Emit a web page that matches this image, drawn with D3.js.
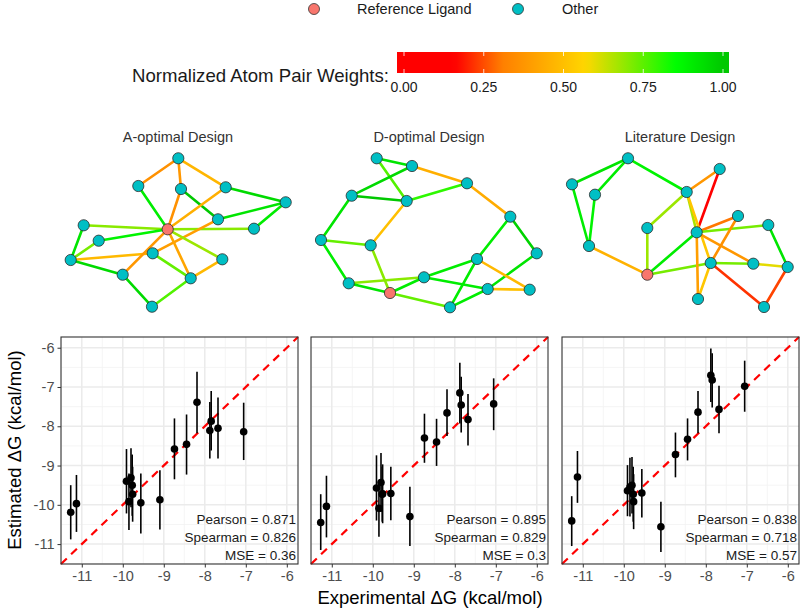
<!DOCTYPE html>
<html><head><meta charset="utf-8">
<script src="https://cdn.jsdelivr.net/npm/d3@7"></script>
<style>body{margin:0;background:#fff;} svg{display:block;font-family:"Liberation Sans",Arial,Helvetica,sans-serif;}</style>
</head><body><svg id="chart" width="800" height="609"></svg>
<script>
// ---------------- DATA ----------------
const designTitles = ["A-optimal Design", "D-optimal Design", "Literature Design"];
const legendLabels = ["Reference Ligand", "Other"];
const legendColors = ["#F8766D", "#00BFC4"];
const colorbarTitle = "Normalized Atom Pair Weights:";
const colorbarTicks = [0, 0.25, 0.5, 0.75, 1];
const weightStops = [0, 0.16, 0.31, 0.57, 0.85, 1];
const weightColors = ["#FF0000", "#FF0000", "#FF8000", "#FFD700", "#00FF00", "#00C800"];

// network layouts (layout units), reference-ligand index, edges [from, to, weight] (1-based)
const nodesA = [[123.3,13.3],[83.3,41],[126,44],[170.7,42.3],[230.7,57.3],[163,74.3],[28.7,80.3],[112.7,84.3],[199,83.7],[43.7,95.7],[15.7,115],[97.7,108.3],[167.3,114.3],[67.7,129.7],[135.7,133.3],[97,161.7]];
const refA = 8;
const edgesA = [[1,2,0.36],[1,3,0.38],[1,4,0.47],[2,8,0.9],[3,8,0.36],[3,6,1.0],[4,8,0.45],[4,5,0.95],[6,5,0.92],[5,9,0.9],[7,8,0.7],[8,9,0.7],[10,8,0.88],[7,11,0.92],[10,11,0.72],[11,12,0.48],[12,6,0.4],[8,13,0.68],[8,15,0.42],[8,14,0.38],[11,14,0.95],[12,15,0.74],[13,15,0.48],[14,16,0.95],[16,15,0.76]];

const nodesB = [[71.7,13.3],[107,21],[162,38.3],[46.7,50.7],[101.7,56],[205.3,71.7],[16,95],[65.7,100.3],[231.7,108.3],[172,114],[119,132.3],[43.7,138.3],[182.7,144],[224.7,144.7],[85,148],[145,162.3]];
const refB = 15;
const edgesB = [[1,2,0.92],[1,5,0.76],[2,4,0.95],[2,3,0.45],[4,5,1.0],[5,3,0.8],[3,6,0.44],[5,8,0.5],[4,7,0.92],[7,8,0.74],[7,12,0.9],[8,15,0.7],[6,10,0.9],[6,9,0.97],[9,13,0.92],[10,11,0.9],[10,14,0.48],[10,16,0.9],[12,11,0.7],[12,15,0.92],[15,11,0.9],[11,13,0.9],[13,14,0.5],[15,16,0.74],[13,16,0.9]];

const nodesC = [[73,13.3],[164.7,24],[17,39.3],[40,49.7],[131.7,47],[183,71],[213.3,80],[92.3,83],[141.7,87.3],[34,101],[155.7,118],[198.3,118.7],[232.7,122],[92.3,129.7],[143,154],[209,162]];
const refC = 14;
const edgesC = [[1,3,0.92],[1,4,0.9],[1,5,0.88],[3,10,0.9],[4,10,0.88],[10,14,0.46],[5,2,0.38],[2,9,0.0],[5,8,0.68],[8,14,0.68],[14,9,0.9],[5,9,0.66],[5,11,0.52],[9,6,0.3],[9,7,0.72],[9,12,0.38],[6,11,0.36],[14,11,0.72],[11,12,0.72],[12,13,0.6],[7,13,0.92],[11,16,0.22],[16,13,0.24],[9,15,0.4],[11,15,0.52]];

// scatter data
const axisTicks = [-11, -10, -9, -8, -7, -6];
const axisLimits = [-11.507, -5.727];
const experimental = [-11.27,-11.13,-9.91,-9.85,-9.80,-9.77,-9.76,-9.56,-9.095,-8.74,-8.445,-8.19,-7.877,-7.844,-7.678,-7.052];
const estA = [-10.19,-9.97,-9.40,-9.92,-9.31,-9.50,-9.73,-9.95,-9.87,-8.58,-8.46,-7.39,-8.11,-7.87,-8.05,-8.14];
const loA  = [-10.88,-10.69,-10.22,-10.64,-10.06,-10.28,-10.43,-10.73,-10.63,-9.35,-9.23,-8.18,-8.82,-8.62,-8.82,-8.86];
const hiA  = [-9.50,-9.24,-8.58,-9.20,-8.56,-8.72,-9.03,-9.20,-9.12,-7.80,-7.70,-6.61,-7.38,-7.10,-7.27,-7.40];
const estB = [-10.45,-10.04,-9.57,-10.09,-9.43,-9.73,-9.72,-9.71,-10.30,-8.30,-8.40,-7.66,-7.15,-7.46,-7.83,-7.43];
const loB  = [-11.15,-10.83,-10.40,-10.81,-10.18,-10.43,-10.47,-10.39,-11.05,-8.93,-9.01,-8.25,-7.93,-8.16,-8.49,-8.10];
const hiB  = [-9.73,-9.26,-8.74,-9.37,-8.68,-9.03,-8.97,-9.03,-9.54,-7.68,-7.81,-7.06,-6.38,-6.74,-7.18,-6.78];
const estC = [-10.41,-9.29,-9.64,-9.55,-9.50,-9.73,-9.92,-9.70,-10.56,-8.72,-8.33,-7.64,-6.70,-6.82,-7.57,-6.98];
const loC  = [-11.05,-9.95,-10.29,-10.30,-10.22,-10.43,-10.62,-10.32,-11.20,-9.30,-8.87,-8.18,-7.38,-7.52,-8.18,-7.63];
const hiC  = [-9.78,-8.63,-8.99,-8.80,-8.78,-9.03,-9.22,-9.09,-9.92,-8.16,-7.80,-7.10,-6.02,-6.14,-6.97,-6.33];
const pearson  = ["0.871", "0.895", "0.838"];
const spearman = ["0.826", "0.829", "0.718"];
const mse      = ["0.36", "0.3", "0.57"];
const xTitle = "Experimental \u0394G (kcal/mol)";
const yTitle = "Estimated \u0394G (kcal/mol)";

// ---------------- DRAW ----------------
const svg = d3.select("#chart");
const color = d3.scaleLinear().domain(weightStops).range(weightColors).clamp(true);

// top legend
const legX = [314, 518], legTextX = [357, 562];
legendLabels.forEach((lab, i) => {
  svg.append("circle").attr("cx", legX[i]).attr("cy", 9).attr("r", 5.5)
    .attr("fill", legendColors[i]).attr("stroke", "#333").attr("stroke-width", 0.8);
  svg.append("text").attr("x", legTextX[i]).attr("y", 14).attr("font-size", 14.5)
    .attr("fill", "#1a1a1a").text(lab);
});

// colorbar
const cbScale = d3.scaleLinear().domain([0, 1]).range([404, 723]);
const defs = svg.append("defs");
const grad = defs.append("linearGradient").attr("id", "cbgrad").attr("x1", "0%").attr("x2", "100%");
const barX0 = 397, barX1 = 729;
d3.range(0, 1.0001, 0.02).forEach(t => {
  const v = cbScale.invert(barX0 + t * (barX1 - barX0));
  grad.append("stop").attr("offset", (t * 100) + "%").attr("stop-color", color(v));
});
svg.append("rect").attr("x", barX0).attr("y", 52).attr("width", barX1 - barX0).attr("height", 21)
  .attr("fill", "url(#cbgrad)");
colorbarTicks.forEach(t => {
  svg.append("line").attr("x1", cbScale(t)).attr("x2", cbScale(t)).attr("y1", 52).attr("y2", 56)
    .attr("stroke", "#fff").attr("stroke-width", 0.8);
  svg.append("line").attr("x1", cbScale(t)).attr("x2", cbScale(t)).attr("y1", 69).attr("y2", 73)
    .attr("stroke", "#fff").attr("stroke-width", 0.8);
  svg.append("text").attr("x", cbScale(t)).attr("y", 92).attr("text-anchor", "middle")
    .attr("font-size", 14).attr("fill", "#1a1a1a").text(t.toFixed(2));
});
svg.append("text").attr("x", 389).attr("y", 82).attr("text-anchor", "end")
  .attr("font-size", 18.6).attr("fill", "#1a1a1a").text(colorbarTitle);

// networks
const netOrigins = [55, 305, 555];
const titleCenters = [178, 429, 680];
const nets = [[nodesA, refA, edgesA], [nodesB, refB, edgesB], [nodesC, refC, edgesC]];
nets.forEach(([nodes, ref, edges], k) => {
  const sx = d3.scaleLinear().domain([0, 240]).range([netOrigins[k], netOrigins[k] + 240]);
  const sy = d3.scaleLinear().domain([0, 170]).range([145, 315]);
  const g = svg.append("g");
  svg.append("text").attr("x", titleCenters[k]).attr("y", 142).attr("text-anchor", "middle")
    .attr("font-size", 14.5).attr("fill", "#333").text(designTitles[k]);
  g.selectAll("line").data(edges).join("line")
    .attr("x1", d => sx(nodes[d[0]-1][0])).attr("y1", d => sy(nodes[d[0]-1][1]))
    .attr("x2", d => sx(nodes[d[1]-1][0])).attr("y2", d => sy(nodes[d[1]-1][1]))
    .attr("stroke", d => color(d[2])).attr("stroke-width", 2.6).attr("stroke-linecap", "round");
  g.selectAll("circle").data(nodes).join("circle")
    .attr("cx", d => sx(d[0])).attr("cy", d => sy(d[1])).attr("r", 5.6)
    .attr("fill", (d, i) => i === ref - 1 ? legendColors[0] : legendColors[1])
    .attr("stroke", "#2b2b2b").attr("stroke-width", 0.8);
});

// scatter panels
const panelX = [[61, 298], [311, 548], [562, 799]];
const panelY = [337, 564];
const ests = [estA, estB, estC], los = [loA, loB, loC], his = [hiA, hiB, hiC];
const minorTicks = d3.range(-11.5, -5.5, 0.5).filter(v => !Number.isInteger(v));
panelX.forEach((px, k) => {
  const x = d3.scaleLinear().domain(axisLimits).range(px);
  const y = d3.scaleLinear().domain(axisLimits).range([panelY[1], panelY[0]]);
  const g = svg.append("g");
  g.append("rect").attr("x", px[0]).attr("y", panelY[0]).attr("width", px[1]-px[0])
    .attr("height", panelY[1]-panelY[0]).attr("fill", "#fff");
  minorTicks.filter(v => v >= axisLimits[0]).forEach(v => {
    g.append("line").attr("x1", x(v)).attr("x2", x(v)).attr("y1", panelY[0]).attr("y2", panelY[1])
      .attr("stroke", "#F2F2F2").attr("stroke-width", 0.8);
    g.append("line").attr("y1", y(v)).attr("y2", y(v)).attr("x1", px[0]).attr("x2", px[1])
      .attr("stroke", "#F2F2F2").attr("stroke-width", 0.8);
  });
  axisTicks.forEach(v => {
    g.append("line").attr("x1", x(v)).attr("x2", x(v)).attr("y1", panelY[0]).attr("y2", panelY[1])
      .attr("stroke", "#EBEBEB").attr("stroke-width", 1.5);
    g.append("line").attr("y1", y(v)).attr("y2", y(v)).attr("x1", px[0]).attr("x2", px[1])
      .attr("stroke", "#EBEBEB").attr("stroke-width", 1.5);
  });
  g.append("line").attr("x1", x(axisLimits[0])).attr("y1", y(axisLimits[0]))
    .attr("x2", x(axisLimits[1])).attr("y2", y(axisLimits[1]))
    .attr("stroke", "#FF0000").attr("stroke-width", 2.2).attr("stroke-dasharray", "8,6");
  g.selectAll("line.err").data(experimental).join("line").attr("class", "err")
    .attr("x1", d => x(d)).attr("x2", d => x(d))
    .attr("y1", (d, i) => y(los[k][i])).attr("y2", (d, i) => y(his[k][i]))
    .attr("stroke", "#000").attr("stroke-width", 1.6);
  g.selectAll("circle").data(experimental).join("circle")
    .attr("cx", d => x(d)).attr("cy", (d, i) => y(ests[k][i])).attr("r", 3.8).attr("fill", "#000");
  g.append("rect").attr("x", px[0]).attr("y", panelY[0]).attr("width", px[1]-px[0])
    .attr("height", panelY[1]-panelY[0]).attr("fill", "none").attr("stroke", "#333").attr("stroke-width", 1.1);
  const xa = g.append("g").attr("transform", `translate(0,${panelY[1]})`)
    .call(d3.axisBottom(x).tickValues(axisTicks).tickSize(3.5).tickPadding(3).tickFormat(d3.format("d")));
  xa.select(".domain").remove();
  xa.selectAll("line").attr("stroke", "#333");
  xa.selectAll("text").attr("font-size", 14.5).attr("fill", "#4D4D4D").attr("font-family", "Liberation Sans, Arial, sans-serif").text(d => String(d));
  if (k === 0) {
    const ya = g.append("g").attr("transform", `translate(${px[0]},0)`)
      .call(d3.axisLeft(y).tickValues(axisTicks).tickSize(3.5).tickPadding(3).tickFormat(d3.format("d")));
    ya.select(".domain").remove();
    ya.selectAll("line").attr("stroke", "#333");
    ya.selectAll("text").attr("font-size", 14.5).attr("fill", "#4D4D4D").attr("font-family", "Liberation Sans, Arial, sans-serif").text(d => String(d));
  }
  const labs = ["Pearson = " + pearson[k], "Spearman = " + spearman[k], "MSE = " + mse[k]];
  labs.forEach((t, j) => {
    g.append("text").attr("x", px[1] - 2).attr("y", 524 + j * 18).attr("text-anchor", "end")
      .attr("font-size", 13.5).attr("fill", "#1a1a1a").text(t);
  });
});

svg.append("text").attr("x", 430).attr("y", 604).attr("text-anchor", "middle")
  .attr("font-size", 18.5).attr("fill", "#000").text(xTitle);
svg.append("text").attr("transform", "translate(21,450) rotate(-90)").attr("text-anchor", "middle")
  .attr("font-size", 18.5).attr("fill", "#000").text(yTitle);
</script></body></html>
